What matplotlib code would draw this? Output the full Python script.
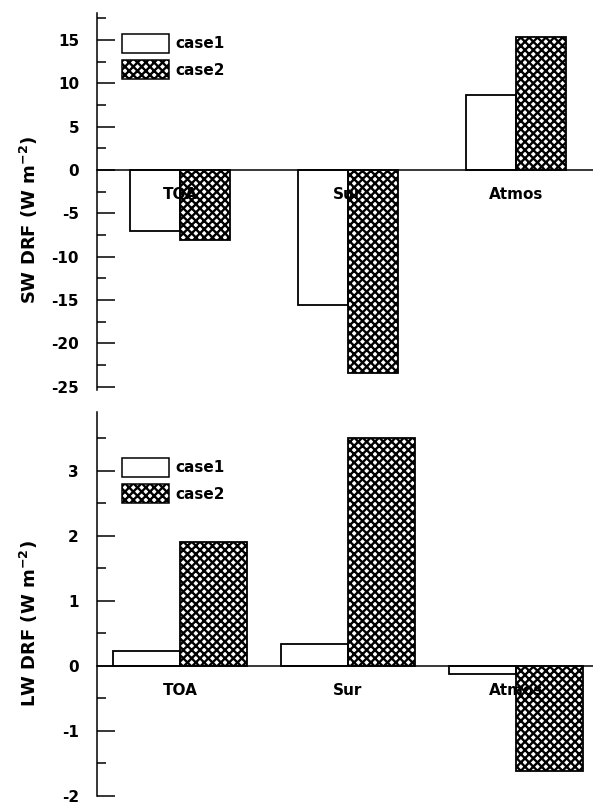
import numpy as np
import matplotlib.pyplot as plt
from matplotlib.patches import Patch

plt.rcParams['font.family'] = 'DejaVu Sans'
plt.rcParams['font.weight'] = 'bold'
plt.rcParams['axes.unicode_minus'] = False
plt.rcParams['hatch.linewidth'] = 1.7

# datos
categorias = ['TOA', 'Sur', 'Atmos']
sw_case1 = [-7.0, -15.6, 8.6]
sw_case2 = [-8.1, -23.4, 15.3]
lw_case1 = [0.23, 0.34, -0.12]
lw_case2 = [1.9, 3.5, -1.61]

x = np.arange(len(categorias))
trama = 'xxxx'


def panel(ax, v1, v2, ancho, ylim, mayor, menor, ylabel, leg_y):
    ax.bar(x - ancho / 2, v1, ancho, color='none', edgecolor='black', linewidth=1.3, zorder=3)
    ax.bar(x + ancho / 2, v2, ancho, color='none', edgecolor='black', hatch=trama, linewidth=1.3, zorder=3)
    for i, c in enumerate(categorias):
        ax.annotate(c, (x[i], 0), xytext=(0, -18), textcoords='offset points',
                    ha='center', va='center', fontsize=11, fontweight='bold', zorder=1)
    ax.set_xlim(-0.494, 2.458)
    ax.set_ylim(*ylim)
    ax.set_yticks(mayor)
    ax.set_yticks(menor, minor=True)
    ax.set_xticks([])
    for s in ['top', 'right']:
        ax.spines[s].set_visible(False)
    ax.spines['bottom'].set_position(('data', 0))
    ax.spines['bottom'].set_linewidth(1.1)
    ax.spines['left'].set_linewidth(1.1)
    ax.tick_params(axis='y', which='major', direction='in', length=13, width=1.1, pad=13, labelsize=11)
    ax.tick_params(axis='y', which='minor', direction='in', length=6.5, width=1.1)
    for t in ax.get_yticklabels():
        t.set_fontweight('bold')
    ax.set_ylabel(ylabel, fontsize=13, fontweight='bold')
    ax.yaxis.set_label_coords(-0.115, 0.45)
    handles = [Patch(facecolor='white', edgecolor='black', linewidth=1.1, label='case1'),
               Patch(facecolor='white', edgecolor='black', hatch=trama, linewidth=1.1, label='case2')]
    ax.legend(handles=handles, loc='upper left', bbox_to_anchor=(0.05, leg_y), frameon=False,
              handlelength=3.1, handleheight=1.5, handletextpad=0.4, labelspacing=0.5,
              borderpad=0, borderaxespad=0, prop={'size': 11, 'weight': 'bold'})


fig = plt.figure(figsize=(5.93, 8.05), dpi=100)
ax1 = fig.add_axes([97 / 593, 0.5155, 496 / 593, 0.4684])
ax2 = fig.add_axes([97 / 593, 9 / 805, 496 / 593, 384 / 805])

panel(ax1, sw_case1, sw_case2, 0.30, (-25.4, 18.1), np.arange(-25, 16, 5), np.arange(-22.5, 18, 5),
      'SW DRF (W m$^{\\mathbf{-2}}$)', 0.944)
panel(ax2, lw_case1, lw_case2, 0.40, (-2.0, 3.9), np.arange(-2, 4, 1), np.arange(-1.5, 4, 1),
      'LW DRF (W m$^{\\mathbf{-2}}$)', 0.88)

fig.savefig('out.png', dpi=100)
